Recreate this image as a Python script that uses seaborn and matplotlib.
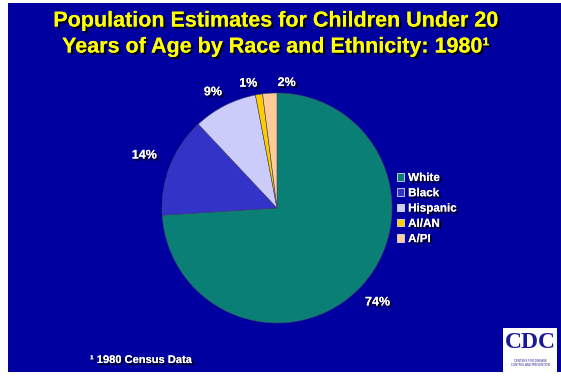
import matplotlib
matplotlib.use("Agg")
import matplotlib.pyplot as plt
import matplotlib.patheffects as pe
from matplotlib.patches import Rectangle
import numpy as np
import seaborn as sns

# ---------------------------------------------------------------------
# DATA
# ---------------------------------------------------------------------
groups = ["White", "Black", "Hispanic", "AI/AN", "A/PI"]
shares = [74, 14, 9, 1, 2]
slice_colors = ["#0a7f76", "#3333c8", "#ccccfa", "#ffcc00", "#ffcc99"]
title_lines = ["Population Estimates for Children Under 20",
               "Years of Age by Race and Ethnicity: 1980\u00b9"]
footnote = "\u00b9 1980 Census Data"

BG = "#0000a0"
W, H = 561, 377

sns.set_style("white")
plt.rcParams["font.family"] = ["Liberation Sans", "DejaVu Sans"]

fig = plt.figure(figsize=(W / 100, H / 100), dpi=100, facecolor="white")

# blue slide area (thin white margin on the left / top / bottom)
fig.patches.append(Rectangle((8 / W, 1 - 372 / H), 1 - 8 / W, (372 - 3) / H,
                             transform=fig.transFigure, facecolor=BG,
                             edgecolor="none", zorder=-5))

shadow = [pe.withSimplePatchShadow(offset=(1.5, -1.5), shadow_rgbFace="black", alpha=0.9),
          pe.Normal()]

# title
for i, line in enumerate(title_lines):
    fig.text(276 / W, 1 - (21 + 26 * i) / H, line, ha="center", va="center",
             fontsize=15.5, fontweight="bold", color="#ffff00", path_effects=shadow)

# pie
cx, cy, r = 277, 208, 115
ax = fig.add_axes([(cx - r) / W, (H - cy - r) / H, 2 * r / W, 2 * r / H])
ax.set_zorder(2)
wedges, texts = ax.pie(shares, colors=slice_colors, startangle=90, counterclock=False,
                       labels=[f"{s}%" for s in shares], labeldistance=1.17,
                       wedgeprops=dict(edgecolor="#444466", linewidth=0.4),
                       textprops=dict(color="white", fontsize=9, fontweight="bold"))
ax.set_xlim(-1, 1)
ax.set_ylim(-1, 1)
ax.set_aspect("equal")
ax.axis("off")

# spread the two thin slices' labels so they do not collide
nudge = {"Black": (0, 1.24), "Hispanic": (2, 1.15), "AI/AN": (4, 1.11), "A/PI": (-8, 1.09)}
for g, w, t in zip(groups, wedges, texts):
    d_ang, dist = nudge.get(g, (0, 1.2))
    ang = np.deg2rad((w.theta1 + w.theta2) / 2 + d_ang)
    t.set_position((dist * np.cos(ang), dist * np.sin(ang)))
    t.set_ha("center")
    t.set_va("center")
    t.set_path_effects(shadow)

# legend
leg = fig.legend(wedges, groups, loc="upper left", bbox_to_anchor=(397 / W, 1 - 172 / H),
                 frameon=False, handlelength=0.6, handleheight=0.6, handletextpad=0.35,
                 labelspacing=0.28, borderaxespad=0, borderpad=0,
                 prop=dict(size=8.4, weight="bold"))
for t in leg.get_texts():
    t.set_color("white")
    t.set_path_effects(shadow)
for h in leg.legend_handles:
    h.set_edgecolor("#dddddd")
    h.set_linewidth(0.6)

# footnote
fig.text(90 / W, 1 - 360 / H, footnote, ha="left", va="center", fontsize=8,
         fontweight="bold", color="white", path_effects=shadow)

# CDC logo box
fig.patches.append(Rectangle((503 / W, 1 - 373 / H), 54 / W, 45 / H,
                             transform=fig.transFigure, facecolor="white",
                             edgecolor="none", zorder=1))
fig.text(530 / W, 1 - 343 / H, "CDC", ha="center", va="center", fontsize=17,
         fontweight="bold", family="Liberation Serif", color="#1a1a99", zorder=2)
fig.text(530 / W, 1 - 363 / H, "CENTERS FOR DISEASE\nCONTROL AND PREVENTION",
         ha="center", va="center", fontsize=2, color="#1a1a99", zorder=2,
         linespacing=1.2)

fig.savefig("out.png", dpi=100, facecolor="white")
